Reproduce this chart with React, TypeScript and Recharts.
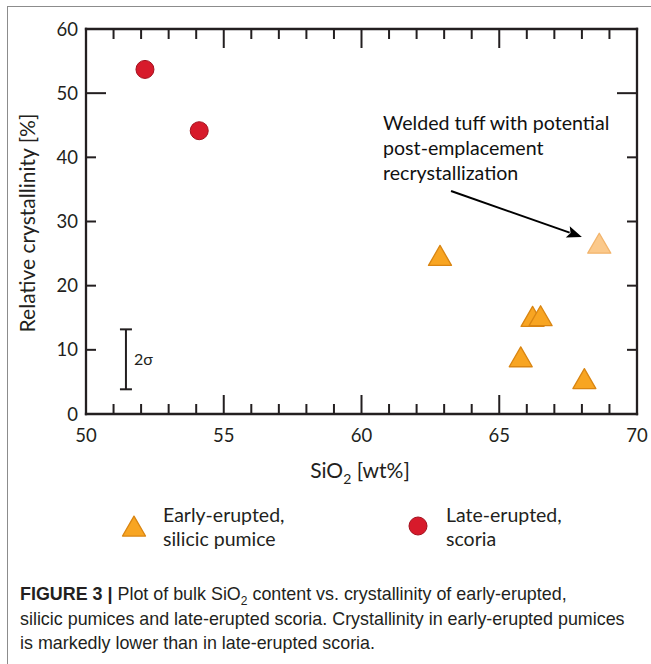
import React from "react";
import {
  ScatterChart,
  Scatter,
  XAxis,
  YAxis,
  ErrorBar,
  ReferenceLine,
} from "recharts";

// early-erupted silicic pumice (orange triangles)
const pumiceSiO2 = [62.85, 66.21, 66.5, 65.78, 68.09];
const pumiceCryst = [24.2, 14.7, 14.8, 8.4, 5.0];

// welded tuff (pale triangle)
const tuffSiO2 = [68.63];
const tuffCryst = [26.1];

// late-erupted scoria (red circles)
const scoriaSiO2 = [52.14, 54.11];
const scoriaCryst = [53.7, 44.15];

// 2 sigma error bar
const sigmaX = [51.45];
const sigmaY = [8.52];
const sigmaErr = [4.67];

// annotation arrow, start and end in data units
const arrowSiO2 = [63.25, 68.0];
const arrowCryst = [34.75, 27.6];
const noteLines = [
  "Welded tuff with potential",
  "post-emplacement",
  "recrystallization",
];

const xTicks = [
  50, 51, 52, 53, 54, 55, 56, 57, 58, 59, 60, 61, 62, 63, 64, 65, 66, 67, 68,
  69, 70,
];
const xLabelTicks = [50, 55, 60, 65, 70];
const yTicks = [0, 10, 20, 30, 40, 50, 60];
const yLongTicks = [50];

const pumiceData = pumiceSiO2.map((x, i) => ({ x, y: pumiceCryst[i] }));
const tuffData = tuffSiO2.map((x, i) => ({ x, y: tuffCryst[i] }));
const scoriaData = scoriaSiO2.map((x, i) => ({ x, y: scoriaCryst[i] }));
const sigmaData = sigmaX.map((x, i) => ({ x, y: sigmaY[i], err: sigmaErr[i] }));

const INK = "#231f20";
const FONT = "Lato, 'Open Sans', sans-serif";
const ORANGE = "#f8a522";
const ORANGE_EDGE = "#d98512";
const TUFF = "#fbc98b";
const TUFF_EDGE = "#f2b46c";
const RED = "#d71a2b";
const RED_EDGE = "#a3101e";

const TRI_SIDE = 23;
const DOT_R = 9;

function triPoints(cx: number, cy: number) {
  const h = (TRI_SIDE * Math.sqrt(3)) / 2;
  return `${cx},${cy - (2 * h) / 3} ${cx - TRI_SIDE / 2},${cy + h / 3} ${cx + TRI_SIDE / 2},${cy + h / 3}`;
}

const PumiceShape = ({ cx, cy }: any) => (
  <polygon points={triPoints(cx, cy)} fill={ORANGE} stroke={ORANGE_EDGE} strokeWidth={1.3} strokeLinejoin="round" />
);
const TuffShape = ({ cx, cy }: any) => (
  <polygon points={triPoints(cx, cy)} fill={TUFF} stroke={TUFF_EDGE} strokeWidth={1.3} strokeLinejoin="round" />
);
const ScoriaShape = ({ cx, cy }: any) => (
  <circle cx={cx} cy={cy} r={DOT_R} fill={RED} stroke={RED_EDGE} strokeWidth={1} />
);

function BottomTick({ x, y, payload }: any) {
  const major = xLabelTicks.includes(payload.value);
  return (
    <g>
      <line x1={x} y1={y} x2={x} y2={y - (major ? 19 : 10)} stroke={INK} strokeWidth={2} />
      {major && (
        <text x={x} y={y + 28} textAnchor="middle" fontSize={18.5} fill={INK} fontFamily={FONT}>
          {payload.value}
        </text>
      )}
    </g>
  );
}

function TopTick({ x, y, payload }: any) {
  const major = xLabelTicks.includes(payload.value);
  return <line x1={x} y1={y} x2={x} y2={y + (major ? 19 : 10)} stroke={INK} strokeWidth={2} />;
}

function LeftTick({ x, y, payload }: any) {
  const len = yLongTicks.includes(payload.value) ? 20 : 10;
  return (
    <g>
      <line x1={x} y1={y} x2={x + len} y2={y} stroke={INK} strokeWidth={2} />
      <text x={x - 8} y={y + 6.5} textAnchor="end" fontSize={18.5} fill={INK} fontFamily={FONT}>
        {payload.value}
      </text>
    </g>
  );
}

function RightTick({ x, y, payload }: any) {
  const len = yLongTicks.includes(payload.value) ? 20 : 10;
  return <line x1={x} y1={y} x2={x - len} y2={y} stroke={INK} strokeWidth={2} />;
}

function SigmaShape({ cx, cy }: any) {
  return (
    <text x={cx + 8} y={cy + 6} fontSize={16} fill={INK} fontFamily={FONT}>
      2σ
    </text>
  );
}

function ArrowShape({ x1, y1, x2, y2 }: any) {
  const dx = x2 - x1;
  const dy = y2 - y1;
  const d = Math.sqrt(dx * dx + dy * dy);
  const ux = dx / d;
  const uy = dy / d;
  const head = 15;
  const half = 6;
  const bx = x2 - ux * head;
  const by = y2 - uy * head;
  return (
    <g>
      <line x1={x1} y1={y1} x2={bx + ux * 2} y2={by + uy * 2} stroke="#000" strokeWidth={2} />
      <polygon
        points={`${x2},${y2} ${bx - uy * half},${by + ux * half} ${bx + ux * 3},${by + uy * 3} ${bx + uy * half},${by - ux * half}`}
        fill="#000"
      />
      {noteLines.map((t, i) => (
        <text key={t} x={x1 - 68} y={y1 - 61 + i * 25} fontSize={19.6} fill="#111" fontFamily={FONT}>
          {t}
        </text>
      ))}
    </g>
  );
}

const axisLine = { stroke: INK, strokeWidth: 2.3, strokeLinecap: "square" as const };

export default function App() {
  return (
    <div
      style={{
        position: "absolute",
        left: 0,
        top: 0,
        width: 651,
        height: 664,
        background: "#fff",
        overflow: "hidden",
      }}
    >
      <div
        style={{
          position: "absolute",
          left: 7,
          top: 6,
          width: 700,
          height: 700,
          borderTop: "1.5px solid #8c8c8c",
          borderLeft: "1.5px solid #8c8c8c",
        }}
      />
      <div style={{ position: "absolute", left: 0, top: 0 }}>
        <ScatterChart
          width={651}
          height={490}
          margin={{ top: 19, right: 4, bottom: 46, left: 46 }}
        >
          <XAxis
            xAxisId="b"
            type="number"
            dataKey="x"
            orientation="bottom"
            domain={[50, 70]}
            ticks={xTicks}
            interval={0}
            height={30}
            tickSize={0}
            tickMargin={0}
            tickLine={false}
            axisLine={axisLine}
            tick={<BottomTick />}
            allowDataOverflow
          />
          <XAxis
            xAxisId="t"
            type="number"
            dataKey="x"
            orientation="top"
            domain={[50, 70]}
            ticks={xTicks}
            interval={0}
            height={10}
            tickSize={0}
            tickMargin={0}
            tickLine={false}
            axisLine={axisLine}
            tick={<TopTick />}
            allowDataOverflow
          />
          <YAxis
            yAxisId="l"
            type="number"
            dataKey="y"
            orientation="left"
            domain={[0, 60]}
            ticks={yTicks}
            interval={0}
            width={40}
            tickSize={0}
            tickMargin={0}
            tickLine={false}
            axisLine={axisLine}
            tick={<LeftTick />}
            allowDataOverflow
          />
          <YAxis
            yAxisId="r"
            type="number"
            dataKey="y"
            orientation="right"
            domain={[0, 60]}
            ticks={yTicks}
            interval={0}
            width={10}
            tickSize={0}
            tickMargin={0}
            tickLine={false}
            axisLine={axisLine}
            tick={<RightTick />}
            allowDataOverflow
          />

          <ReferenceLine
            xAxisId="b"
            yAxisId="l"
            segment={[
              { x: arrowSiO2[0], y: arrowCryst[0] },
              { x: arrowSiO2[1], y: arrowCryst[1] },
            ]}
            shape={ArrowShape}
            ifOverflow="visible"
          />

          <Scatter
            name="2σ"
            data={sigmaData}
            xAxisId="b"
            yAxisId="l"
            shape={SigmaShape}
            legendType="none"
            isAnimationActive={false}
          >
            <ErrorBar
              dataKey="err"
              direction="y"
              width={6}
              stroke={INK}
              strokeWidth={2}
              isAnimationActive={false}
            />
          </Scatter>
          <Scatter
            name="Welded tuff"
            data={tuffData}
            xAxisId="b"
            yAxisId="l"
            shape={TuffShape}
            isAnimationActive={false}
          />
          <Scatter
            name="Early-erupted, silicic pumice"
            data={pumiceData}
            xAxisId="b"
            yAxisId="l"
            shape={PumiceShape}
            isAnimationActive={false}
          />
          <Scatter
            name="Late-erupted, scoria"
            data={scoriaData}
            xAxisId="b"
            yAxisId="l"
            shape={ScoriaShape}
            isAnimationActive={false}
          />

          <text
            transform="translate(35 223) rotate(-90)"
            textAnchor="middle"
            fontSize={21}
            fill={INK}
            fontFamily={FONT}
          >
            Relative crystallinity [%]
          </text>
          <text x={360} y={478} textAnchor="middle" fontSize={21} fill={INK} fontFamily={FONT}>
            SiO
            <tspan fontSize={14} dy={6}>2</tspan>
            <tspan dy={-6}> [wt%]</tspan>
          </text>
        </ScatterChart>
      </div>

      <svg
        width={651}
        height={80}
        style={{ position: "absolute", left: 0, top: 490 }}
      >
        <polygon
          points={triPoints(134, 39.4)}
          fill={ORANGE}
          stroke={ORANGE_EDGE}
          strokeWidth={1.3}
          strokeLinejoin="round"
        />
        <text x={163} y={32} fontSize={19.5} fill={INK} fontFamily={FONT}>
          Early-erupted,
        </text>
        <text x={163} y={56} fontSize={19.5} fill={INK} fontFamily={FONT}>
          silicic pumice
        </text>
        <circle cx={418} cy={36} r={DOT_R} fill={RED} stroke={RED_EDGE} strokeWidth={1} />
        <text x={446} y={32} fontSize={19.5} fill={INK} fontFamily={FONT}>
          Late-erupted,
        </text>
        <text x={446} y={56} fontSize={19.5} fill={INK} fontFamily={FONT}>
          scoria
        </text>
      </svg>

      <div
        style={{
          position: "absolute",
          left: 20,
          top: 582,
          whiteSpace: "nowrap",
          fontFamily: "'Liberation Sans', Arial, sans-serif",
          fontSize: 17.9,
          lineHeight: "24.5px",
          color: INK,
        }}
      >
        <b>FIGURE 3 |</b> Plot of bulk SiO
        <sub style={{ fontSize: 12, lineHeight: 0 }}>2</sub> content vs. crystallinity of early-erupted,
        <br />
        silicic pumices and late-erupted scoria. Crystallinity in early-erupted pumices
        <br />
        is markedly lower than in late-erupted scoria.
      </div>
    </div>
  );
}
